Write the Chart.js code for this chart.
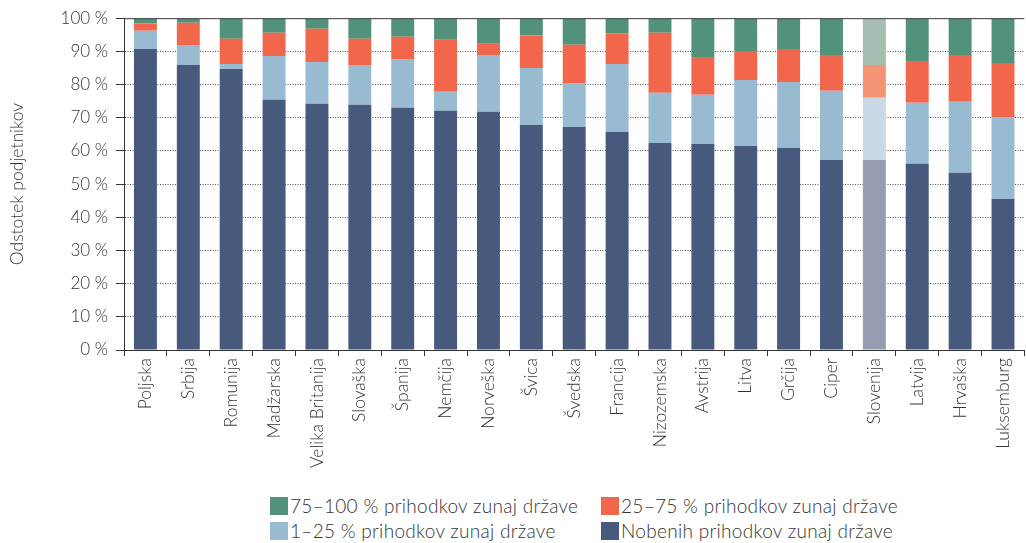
<!DOCTYPE html>
<html lang="sl">
<head>
<meta charset="utf-8">
<script src="https://cdn.jsdelivr.net/npm/chart.js@4.4.1/dist/chart.umd.min.js"></script>
<style>
  html, body { margin: 0; padding: 0; background: #fff; }
  body { width: 1026px; height: 543px; overflow: hidden; position: relative; font-family: Lato, "Open Sans", sans-serif; font-weight: 300; color: #333; }
  #wrap { position: absolute; left: 0; top: 0; width: 1026px; height: 480px; }
  #legend { position: absolute; left: 270px; top: 493px; display: grid; grid-template-columns: 331px 300px; grid-auto-rows: 25px; }
  .legend-item { display: flex; align-items: center; font-size: 19px; letter-spacing: 0.3px; white-space: nowrap; }
  .legend-color { width: 18px; height: 18px; margin-right: 2px; flex: none; }
</style>
</head>
<body>
<div id="wrap"><canvas id="chart"></canvas></div>
<div id="legend"></div>
<script>
// Države (kategorije)
const countries = ['Poljska', 'Srbija', 'Romunija', 'Madžarska', 'Velika Britanija', 'Slovaška', 'Španija',
  'Nemčija', 'Norveška', 'Švica', 'Švedska', 'Francija', 'Nizozemska', 'Avstrija', 'Litva', 'Grčija',
  'Ciper', 'Slovenija', 'Latvija', 'Hrvaška', 'Luksemburg'];

// Deleži podjetnikov (%) po razredih prihodkov zunaj države
const noneAbroad = [90.7, 85.9, 84.7, 75.4, 74.2, 73.9, 73.0, 72.1, 71.8, 67.8, 67.2, 65.7, 62.4, 62.1, 61.5, 60.9, 57.3, 57.3, 56.1, 53.4, 45.5];
const share1to25 = [5.5, 6.0, 1.5, 13.2, 12.6, 12.0, 14.7, 5.7, 17.1, 17.2, 13.3, 20.5, 15.1, 14.8, 19.9, 19.9, 20.8, 18.7, 18.4, 21.4, 24.7];
const share25to75 = [2.2, 6.7, 7.6, 7.0, 10.0, 7.9, 6.7, 15.7, 3.4, 9.8, 11.5, 9.2, 18.1, 11.4, 8.7, 9.9, 10.8, 9.9, 12.6, 14.1, 16.3];
const share75to100 = [1.6, 1.4, 6.2, 4.4, 3.2, 6.2, 5.6, 6.5, 7.7, 5.2, 8.0, 4.6, 4.4, 11.7, 9.9, 9.3, 11.1, 14.1, 12.9, 11.1, 13.5];

const yTicks = [0, 10, 20, 30, 40, 50, 60, 70, 80, 90, 100];
const highlight = 'Slovenija';

const TEXT = '#333';
const FONT = 'Lato, "Open Sans", sans-serif';

// barva [običajna, poudarjena za Slovenijo]
function colorsFor(normal, light) {
  return countries.map(c => c === highlight ? light : normal);
}

const datasets = [
  { label: 'Nobenih prihodkov zunaj države', data: noneAbroad, backgroundColor: colorsFor('#475a7e', '#979bb4'), legendColor: '#475a7e' },
  { label: '1–25 % prihodkov zunaj države', data: share1to25, backgroundColor: colorsFor('#99bbd1', '#c9d9e5'), legendColor: '#99bbd1' },
  { label: '25–75 % prihodkov zunaj države', data: share25to75, backgroundColor: colorsFor('#f2674b', '#f59475'), legendColor: '#f2674b' },
  { label: '75–100 % prihodkov zunaj države', data: share75to100, backgroundColor: colorsFor('#52917a', '#a6beb1'), legendColor: '#52917a' }
].map(d => Object.assign(d, { barPercentage: 0.535, categoryPercentage: 1.0, borderWidth: 0 }));

// zgornja polna črta okvirja pri 100 %
const topLine = {
  id: 'topLine',
  afterDraw(chart) {
    const { ctx, chartArea } = chart;
    ctx.save();
    ctx.strokeStyle = '#444';
    ctx.lineWidth = 1;
    ctx.beginPath();
    ctx.moveTo(chartArea.left, chartArea.top + 0.5);
    ctx.lineTo(chartArea.right, chartArea.top + 0.5);
    ctx.stroke();
    ctx.restore();
  }
};

const chart = new Chart(document.getElementById('chart'), {
  type: 'bar',
  data: { labels: countries, datasets },
  plugins: [topLine],
  options: {
    responsive: true,
    maintainAspectRatio: false,
    animation: false,
    layout: { padding: { top: 18, right: 0, bottom: 0, left: 0 } },
    plugins: { legend: { display: false }, tooltip: { enabled: false } },
    scales: {
      x: {
        stacked: true,
        grid: { display: true, drawOnChartArea: false, drawTicks: true, tickLength: 6, color: '#333', offset: true },
        border: { display: true, color: '#333', width: 1 },
        ticks: { color: TEXT, font: { family: FONT, size: 17.5, weight: 300 }, minRotation: 90, maxRotation: 90, padding: 2, autoSkip: false },
        afterFit: (scale) => { scale.height = 130; }
      },
      y: {
        stacked: true,
        min: 0,
        max: 100,
        afterBuildTicks: (scale) => { scale.ticks = yTicks.map(v => ({ value: v })); },
        grid: { color: '#555', tickColor: '#333', tickLength: 8, lineWidth: 1 },
        border: { display: true, color: '#333', width: 1, dash: [1, 1.5] },
        ticks: { color: TEXT, font: { family: FONT, size: 17, weight: 300 }, padding: 8, callback: v => v + ' %' },
        title: { display: true, text: 'Odstotek podjetnikov', color: TEXT, font: { family: FONT, size: 17.5, weight: 300 }, padding: { top: 7, bottom: 0 } },
        afterFit: (scale) => { scale.width = 124; }
      }
    }
  }
});

// HTML legenda v dveh stolpcih
const legendEl = document.getElementById('legend');
for (const ds of [...chart.data.datasets].reverse()) {
  const item = document.createElement('div');
  item.className = 'legend-item';
  const box = document.createElement('div');
  box.className = 'legend-color';
  box.style.backgroundColor = ds.legendColor;
  const label = document.createElement('span');
  label.textContent = ds.label;
  item.appendChild(box);
  item.appendChild(label);
  legendEl.appendChild(item);
}
</script>
</body>
</html>
